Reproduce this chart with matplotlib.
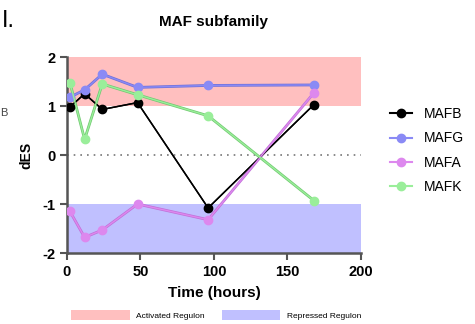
import numpy as np
import matplotlib.pyplot as plt
from matplotlib.patches import Patch
from matplotlib.lines import Line2D

plt.rcParams["axes.unicode_minus"] = False
plt.rcParams["font.family"] = ["Liberation Sans", "DejaVu Sans"]

hours = [2, 12, 24, 48, 96, 168]
mafb = [0.98, 1.25, 0.93, 1.07, -1.08, 1.03]
mafg = [1.18, 1.33, 1.65, 1.38, 1.42, 1.43]
mafa = [-1.15, -1.68, -1.53, -1.00, -1.32, 1.27]
mafk = [1.48, 0.32, 1.45, 1.23, 0.80, -0.93]
genes = ["MAFB", "MAFG", "MAFA", "MAFK"]
colors = ["#000000", "#8a8af5", "#dd88ee", "#9aee9a"]
edge = ["#000000", "#7070d8", "#c070d8", "#70c870"]

fig = plt.figure(figsize=(4.75, 3.24), dpi=100)
ax = fig.add_axes([0.141, 0.219, 0.619, 0.605])

ax.axhspan(1, 2, color="#ffbfbf", lw=0, zorder=0)
ax.axhspan(-2, -1, color="#c0c0ff", lw=0, zorder=0)
ax.axhline(0, color="#777777", lw=1.2, ls=(0, (1, 3)), zorder=1)

for vals, c, ec, g in zip([mafb, mafg, mafa, mafk], colors, edge, genes):
    ax.plot(hours, vals, color=ec, lw=2.0 if g != "MAFB" else 1.1, zorder=2)
    ax.plot(hours, vals, color=c, lw=1.0, marker="o", ms=6,
            mfc=c, mec=c, zorder=3, label=g)

ax.set_xlim(0, 200)
ax.set_ylim(-2, 2)
ax.set_xticks([0, 50, 100, 150, 200])
ax.set_yticks([-2, -1, 0, 1, 2])
for s in ["top", "right"]:
    ax.spines[s].set_visible(False)
for s in ["left", "bottom"]:
    ax.spines[s].set_color("#555555")
    ax.spines[s].set_linewidth(1.8)
ax.tick_params(width=1.5, length=5, color="#555555", labelsize=10.5)
for lab in ax.get_xticklabels() + ax.get_yticklabels():
    lab.set_fontweight("bold")
ax.set_xlabel("Time (hours)", fontsize=11, fontweight="bold", labelpad=5)
ax.set_ylabel("dES", fontsize=10, fontweight="bold", labelpad=6)
ax.set_title("MAF subfamily", fontsize=11, fontweight="bold", pad=22)

handles = [Line2D([0], [0], color=c, lw=1.5, marker="o", ms=6, mfc=c, mec=c, label=g)
           for c, g in zip(colors, genes)]
fig.legend(handles=handles, loc="center left", bbox_to_anchor=(0.795, 0.535),
           frameon=False, fontsize=10, handlelength=1.6, labelspacing=0.75)

reg = [Patch(fc="#ffbfbf", ec="none", label="Activated Regulon"),
       Patch(fc="#c0c0ff", ec="none", label="Repressed Regulon")]
fig.legend(handles=reg, loc="center", bbox_to_anchor=(0.455, 0.027), ncol=2,
           frameon=False, fontsize=6, handlelength=7, handleheight=1.4,
           columnspacing=2.0)

fig.text(0.005, 0.935, "I.", fontsize=17, ha="left", va="center")
fig.text(0.0, 0.65, "B", fontsize=8, ha="left", va="center", color="#444444")

fig.savefig("out.png", dpi=100)
